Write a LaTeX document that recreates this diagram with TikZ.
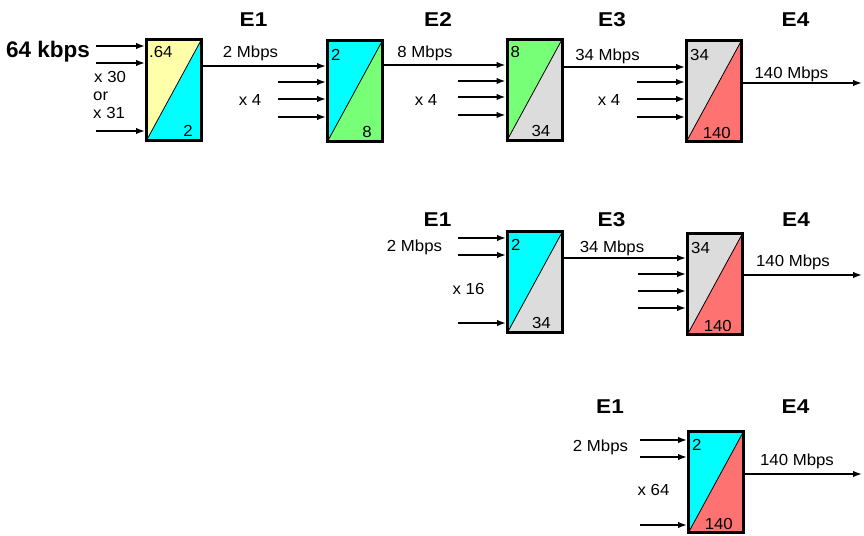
\documentclass[tikz,border=0pt]{standalone}
\usepackage{fontspec}
\setmainfont{Liberation Sans}[FakeStretch=1.05]
\newfontfamily\ttlfont{Liberation Sans}[FakeStretch=1.13]
\newfontfamily\kfont{Liberation Sans}
\usetikzlibrary{arrows.meta}
\definecolor{cyellow}{HTML}{FFFFAA}
\definecolor{ccyan}{HTML}{00FFFF}
\definecolor{cgreen}{HTML}{77FF77}
\definecolor{cgrey}{HTML}{DCDCDC}
\definecolor{cred}{HTML}{FF7272}
\tikzset{
  muxbox/.style 2 args={draw, line width=3pt, minimum width=55pt, minimum height=101pt, inner sep=0pt,
    path picture={
      \fill[#1] (path picture bounding box.north west) -- (path picture bounding box.north east) -- (path picture bounding box.south west) -- cycle;
      \fill[#2] (path picture bounding box.north east) -- (path picture bounding box.south east) -- (path picture bounding box.south west) -- cycle;
      \draw[line width=0.8pt] (path picture bounding box.south west) -- (path picture bounding box.north east);
    }},
  lbl/.style={inner sep=0pt, font=\fontsize{16}{19}\selectfont},
  ttl/.style={inner sep=0pt, anchor=base, font=\ttlfont\fontsize{20}{23}\selectfont\bfseries},
  arr/.style={line width=1.7pt, -{Latex[length=9pt,width=6.5pt]}},
}
\begin{document}
\begin{tikzpicture}[x=1pt,y=-1pt]
\useasboundingbox (0,0) rectangle (864,535);

% ---------- boxes ----------
\node[muxbox={cyellow}{ccyan}] (b1) at (174,90) {};
\node[muxbox={ccyan}{cgreen}] (b2) at (355,91) {};
\node[muxbox={cgreen}{cgrey}] (b3) at (534.5,90) {};
\node[muxbox={cgrey}{cred}] (b4) at (714,91) {};
\node[muxbox={ccyan}{cgrey}] (b5) at (535,282) {};
\node[muxbox={cgrey}{cred}] (b6) at (715,284) {};
\node[muxbox={ccyan}{cred}] (b7) at (716,482) {};

% ---------- box numbers ----------
\node[lbl, anchor=base west] (b1t) at ([shift={(4,20)}]b1.north west) {.64};
\node[lbl, anchor=base east] (b1b) at ([shift={(-10,-6)}]b1.south east) {2};
\node[lbl, anchor=base west] (b2t) at ([shift={(5,21)}]b2.north west) {2};
\node[lbl, anchor=base east] (b2b) at ([shift={(-12,-6)}]b2.south east) {8};
\node[lbl, anchor=base west] (b3t) at ([shift={(5,20)}]b3.north west) {8};
\node[lbl, anchor=base east] (b3b) at ([shift={(-13,-6)}]b3.south east) {34};
\node[lbl, anchor=base west] (b4t) at ([shift={(5,21)}]b4.north west) {34};
\node[lbl, anchor=base east] (b4b) at ([shift={(-12,-5)}]b4.south east) {140};
\node[lbl, anchor=base west] (b5t) at ([shift={(5,20)}]b5.north west) {2};
\node[lbl, anchor=base east] (b5b) at ([shift={(-13,-6)}]b5.south east) {34};
\node[lbl, anchor=base west] (b6t) at ([shift={(5,21)}]b6.north west) {34};
\node[lbl, anchor=base east] (b6b) at ([shift={(-12,-5)}]b6.south east) {140};
\node[lbl, anchor=base west] (b7t) at ([shift={(5,20)}]b7.north west) {2};
\node[lbl, anchor=base east] (b7b) at ([shift={(-12,-5)}]b7.south east) {140};

% ---------- row 1 texts ----------
\node[inner sep=0pt, anchor=base west, font=\kfont\fontsize{22.5}{26}\selectfont\bfseries] (k64) at (6,58) {64 kbps};
\node[lbl, anchor=base west] (x30) at (94,82) {x 30};
\node[lbl, anchor=base west] (or) at (93,100) {or};
\node[lbl, anchor=base west] (x31) at (93,118) {x 31};
\node[ttl] (e1a) at (253.5,27) {E1};
\node[ttl] (e2a) at (438,27) {E2};
\node[ttl] (e3a) at (612,27) {E3};
\node[ttl] (e4a) at (795.5,27) {E4};
\node[lbl, anchor=base] (m2a) at (250.5,57) {2 Mbps};
\node[lbl, anchor=base] (m8a) at (425,57) {8 Mbps};
\node[lbl, anchor=base] (m34a) at (607.5,60) {34 Mbps};
\node[lbl, anchor=base] (m140a) at (791.5,78) {140 Mbps};
\node[lbl, anchor=base] (x4a) at (250,105) {x 4};
\node[lbl, anchor=base] (x4b) at (426,105) {x 4};
\node[lbl, anchor=base] (x4c) at (609,105) {x 4};

% ---------- row 2 texts ----------
\node[ttl] (e1b) at (437.5,226) {E1};
\node[ttl] (e3b) at (611.5,226) {E3};
\node[ttl] (e4b) at (796,226) {E4};
\node[lbl, anchor=base] (m2b) at (414.5,251) {2 Mbps};
\node[lbl, anchor=base] (x16) at (468.5,294) {x 16};
\node[lbl, anchor=base] (m34b) at (612,252) {34 Mbps};
\node[lbl, anchor=base] (m140b) at (793,266) {140 Mbps};

% ---------- row 3 texts ----------
\node[ttl] (e1c) at (610,413) {E1};
\node[ttl] (e4c) at (795.5,413) {E4};
\node[lbl, anchor=base] (m2c) at (600.5,451) {2 Mbps};
\node[lbl, anchor=base] (x64) at (653.5,495) {x 64};
\node[lbl, anchor=base] (m140c) at (797,465) {140 Mbps};

% ---------- coordinates ----------
\coordinate (i1a) at (96,46);
\coordinate (i1b) at (96,63);
\coordinate (i1c) at (96,131);
\coordinate (c12) at (0,66);
\coordinate (i2a) at (278,82);
\coordinate (i2b) at (278,99);
\coordinate (i2c) at (278,117);
\coordinate (c23) at (0,65);
\coordinate (i3a) at (458,81);
\coordinate (i3b) at (458,97);
\coordinate (i3c) at (458,115);
\coordinate (c34) at (0,67);
\coordinate (i4a) at (637,82);
\coordinate (i4b) at (637,99);
\coordinate (i4c) at (637,117);
\coordinate (o4) at (862,83);

\coordinate (i5a) at (458,238);
\coordinate (i5b) at (458,255);
\coordinate (i5c) at (458,323);
\coordinate (c56) at (0,258);
\coordinate (i6a) at (638,274);
\coordinate (i6b) at (638,291);
\coordinate (i6c) at (638,308);
\coordinate (o6) at (862,275);

\coordinate (i7a) at (640,440);
\coordinate (i7b) at (640,457);
\coordinate (i7c) at (640,525);
\coordinate (o7) at (862,474);

% ---------- arrows ----------
\foreach \i in {i1a,i1b,i1c} \draw[arr] (\i) -- (b1.west |- \i);
\draw[arr] (b1.east |- c12) -- (b2.west |- c12);
\foreach \i in {i2a,i2b,i2c} \draw[arr] (\i) -- (b2.west |- \i);
\draw[arr] (b2.east |- c23) -- (b3.west |- c23);
\foreach \i in {i3a,i3b,i3c} \draw[arr] (\i) -- (b3.west |- \i);
\draw[arr] (b3.east |- c34) -- (b4.west |- c34);
\foreach \i in {i4a,i4b,i4c} \draw[arr] (\i) -- (b4.west |- \i);
\draw[arr] (b4.east |- o4) -- (o4);

\foreach \i in {i5a,i5b,i5c} \draw[arr] (\i) -- (b5.west |- \i);
\draw[arr] (b5.east |- c56) -- (b6.west |- c56);
\foreach \i in {i6a,i6b,i6c} \draw[arr] (\i) -- (b6.west |- \i);
\draw[arr] (b6.east |- o6) -- (o6);

\foreach \i in {i7a,i7b,i7c} \draw[arr] (\i) -- (b7.west |- \i);
\draw[arr] (b7.east |- o7) -- (o7);
\end{tikzpicture}
\end{document}
